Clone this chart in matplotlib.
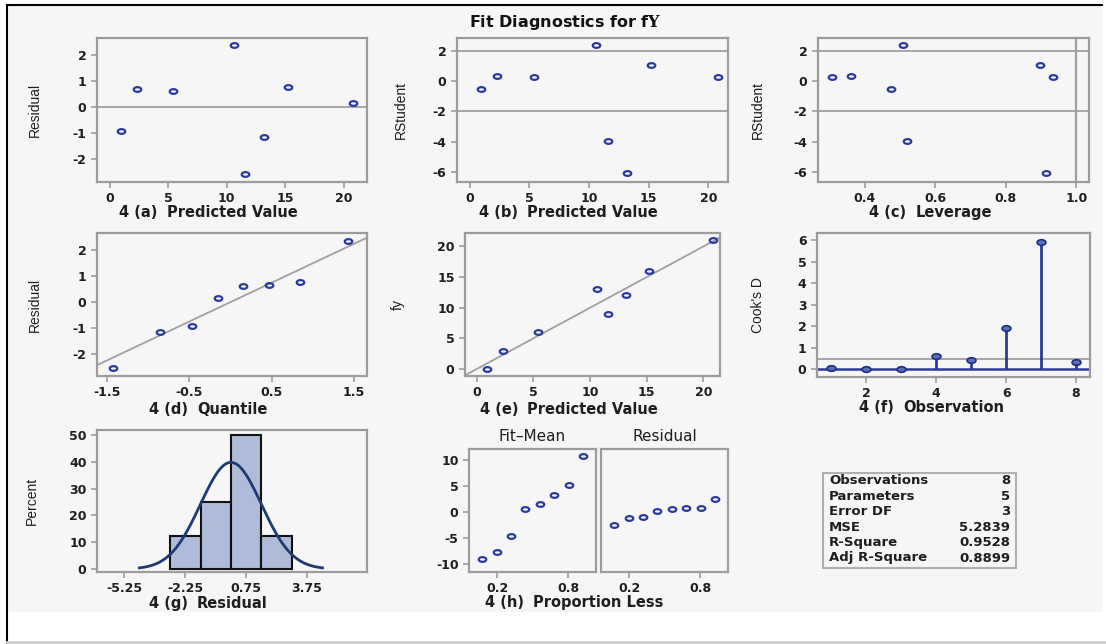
import matplotlib
matplotlib.use("Agg")
import matplotlib.pyplot as plt
import numpy as np
from matplotlib.markers import MarkerStyle
from matplotlib.transforms import Affine2D
from matplotlib.patches import Rectangle
from matplotlib.lines import Line2D

# per-observation values (obs 1..8)
obs = [1, 2, 3, 4, 5, 6, 7, 8]
f_y = [0, 3, 6, 13, 9, 16, 12, 21]
predicted = [0.92, 2.32, 5.38, 10.63, 11.56, 15.23, 13.15, 20.83]
residual = [-0.92, 0.68, 0.62, 2.37, -2.56, 0.77, -1.15, 0.17]
rstudent = [-0.52, 0.34, 0.25, 2.37, -3.94, 1.06, -6.04, 0.25]
leverage = [0.474, 0.362, 0.308, 0.509, 0.521, 0.896, 0.913, 0.934]
cooks_d = [0.08, 0.0, 0.0, 0.60, 0.45, 1.93, 5.90, 0.34]

# Q-Q and residual-fit spread values
normal_quantile = [-1.43, -0.85, -0.47, -0.15, 0.15, 0.47, 0.85, 1.43]
qq_slope, qq_intercept = 1.5, 0.0
proportion_less = [0.076, 0.197, 0.318, 0.439, 0.561, 0.682, 0.803, 0.924]
fit_mean = np.sort(predicted) - np.mean(f_y)
resid_sorted = np.sort(residual)

hist_edges = [-3.0, -1.5, 0.0, 1.5, 3.0]

stat_names = ["Observations", "Parameters", "Error DF", "MSE", "R-Square", "Adj R-Square"]
stat_values = ["8", "5", "3", "5.2839", "0.9528", "0.8899"]

plt.rcParams["font.family"] = ["DejaVu Sans"]
plt.rcParams["font.weight"] = "bold"
plt.rcParams["mathtext.fontset"] = "dejavuserif"
plt.rcParams["axes.unicode_minus"] = False

W, H = 1106, 644
BG = "#f6f6f6"
FRAME = "#9c9c9c"
REF = "#a0a0a0"
BLUE = "#2a3b9b"
NARROW = ["Liberation Sans", "DejaVu Sans"]
INK = "#1e1e1e"

fig = plt.figure(figsize=(W / 100, H / 100), dpi=100)
fig.patch.set_facecolor("white")
renderer = fig.canvas.get_renderer()
fig.patches.append(Rectangle((7 / W, 1 - 612 / H), 1096 / W, 607 / H,
                             transform=fig.transFigure, facecolor=BG,
                             edgecolor="none", zorder=-10))
fig.add_artist(Line2D([7 / W, 1102 / W], [1 - 5 / H, 1 - 5 / H], color="black", lw=1.5))
fig.add_artist(Line2D([7 / W, 7 / W], [1 - 5 / H, 0], color="black", lw=1.5))
fig.add_artist(Line2D([7 / W, 1], [1 - 642 / H, 1 - 642 / H], color="#cfcfcf", lw=2))

ring = MarkerStyle("o", fillstyle="none", transform=Affine2D().scale(1.6, 1.0))
blob = MarkerStyle("o", transform=Affine2D().scale(1.6, 1.0))


def add_ax(box):
    x0, y0, x1, y1 = box
    ax = fig.add_axes([x0 / W, 1 - y1 / H, (x1 - x0) / W, (y1 - y0) / H])
    ax.set_facecolor(BG)
    for s in ax.spines.values():
        s.set_color(FRAME)
        s.set_linewidth(1.6)
    ax.tick_params(direction="out", length=4.5, width=1.2, color=FRAME, pad=3,
                   labelcolor=INK, labelsize=9, top=False, right=False)
    return ax


def x_label(box, text, tag, y):
    x0, _, x1, _ = box
    base = 1 - (y + 4) / H
    t = fig.text((x0 + x1) / 2 / W, base, text, ha="center", va="baseline",
                 fontsize=10.5, fontweight="bold", color=INK)
    left = t.get_window_extent(renderer).x0
    fig.text((left - 9) / W, base, tag, ha="right", va="baseline",
             fontsize=10.5, fontweight="bold", color=INK)


def y_label(box, text, x):
    _, y0, _, y1 = box
    fig.text(x / W, 1 - (y0 + y1) / 2 / H, text, rotation=90, ha="center", va="center",
             fontsize=10, fontweight="normal", family=NARROW, color=INK)


def dots(ax, x, y):
    ax.plot(x, y, linestyle="none", marker=ring, markersize=3.4, mew=1.6,
            mfc="none", mec=BLUE, zorder=3)


fig.text(565 / W, 1 - 22 / H, "Fit Diagnostics for f$\\mathbf{Y}$", ha="center",
         va="center", fontsize=11.5, fontweight="bold", color="#111111")

# (a) residual vs predicted
box = (97, 38, 367, 182)
ax = add_ax(box)
ax.axhline(0, color=REF, lw=1.3)
dots(ax, predicted, residual)
ax.set_xlim(-1.1, 22.0)
ax.set_ylim(-2.88, 2.65)
ax.set_xticks([0, 5, 10, 15, 20])
ax.set_yticks([-2, -1, 0, 1, 2])
x_label(box, "Predicted Value", "4 (a)", 213)
y_label(box, "Residual", 35)

# (b) rstudent vs predicted
box = (457, 38, 728, 182)
ax = add_ax(box)
for v in (2, -2):
    ax.axhline(v, color=REF, lw=1.3)
dots(ax, predicted, rstudent)
ax.set_xlim(-1.05, 21.65)
ax.set_ylim(-6.64, 2.83)
ax.set_xticks([0, 5, 10, 15, 20])
ax.set_yticks([-6, -4, -2, 0, 2])
x_label(box, "Predicted Value", "4 (b)", 213)
y_label(box, "RStudent", 401)

# (c) rstudent vs leverage
box = (818, 38, 1089, 182)
ax = add_ax(box)
for v in (2, -2):
    ax.axhline(v, color=REF, lw=1.3)
ax.axvline(1.0, color=REF, lw=1.6)
dots(ax, leverage, rstudent)
ax.set_xlim(0.268, 1.036)
ax.set_ylim(-6.64, 2.83)
ax.set_xticks([0.4, 0.6, 0.8, 1.0])
ax.set_xticklabels(["0.4", "0.6", "0.8", "1.0"])
ax.set_yticks([-6, -4, -2, 0, 2])
x_label(box, "Leverage", "4 (c)", 213)
y_label(box, "RStudent", 758)

# (d) Q-Q plot of residuals
box = (97, 233, 367, 376)
ax = add_ax(box)
qx = np.array([-2.0, 2.0])
ax.plot(qx, qq_intercept + qq_slope * qx, color=REF, lw=1.3)
dots(ax, normal_quantile, resid_sorted)
ax.set_xlim(-1.62, 1.66)
ax.set_ylim(-2.85, 2.67)
ax.set_xticks([-1.5, -0.5, 0.5, 1.5])
ax.set_yticks([-2, -1, 0, 1, 2])
x_label(box, "Quantile", "4 (d)", 410)
y_label(box, "Residual", 35)

# (e) observed vs predicted
box = (465, 233, 720, 376)
ax = add_ax(box)
ax.plot([-2, 23], [-2, 23], color=REF, lw=1.3)
dots(ax, predicted, f_y)
ax.set_xlim(-1.03, 21.47)
ax.set_ylim(-1.14, 22.2)
ax.set_xticks([0, 5, 10, 15, 20])
ax.set_yticks([0, 5, 10, 15, 20])
x_label(box, "Predicted Value", "4 (e)", 410)
y_label(box, "fy", 398)

# (f) Cook's D
box = (817, 233, 1090, 377)
ax = add_ax(box)
ax.axhline(0.5, color=REF, lw=1.3)
ax.axhline(0, color=BLUE, lw=1.8)
ax.vlines(obs, 0, cooks_d, color=BLUE, lw=2)
ax.plot(obs, cooks_d, linestyle="none", marker=blob, markersize=4.0, mew=1.2,
        mfc="#5a6fc0", mec="#1f2d80", zorder=3)
ax.set_xlim(0.585, 8.4)
ax.set_ylim(-0.36, 6.34)
ax.set_xticks([2, 4, 6, 8])
ax.set_yticks([0, 1, 2, 3, 4, 5, 6])
x_label(box, "Observation", "4 (f)", 408)
y_label(box, "Cook's D", 758)

# (g) histogram of residuals with normal curve
box = (97, 430, 367, 572)
ax = add_ax(box)
ax.hist(residual, bins=hist_edges, weights=np.full(len(residual), 100 / len(residual)),
        facecolor="#afbcd9", edgecolor="#111111", lw=1.5, zorder=2)
mu, sd = np.mean(residual), np.std(residual, ddof=1)
gx = np.linspace(mu - 3 * sd, mu + 3 * sd, 200)
gy = 100 * 1.5 * np.exp(-0.5 * ((gx - mu) / sd) ** 2) / (sd * np.sqrt(2 * np.pi))
ax.plot(gx, gy, color="#1e3a6e", lw=2, zorder=3)
ax.set_xlim(-6.6, 6.7)
ax.set_ylim(-1.1, 51.9)
ax.set_xticks([-5.25, -2.25, 0.75, 3.75])
ax.set_yticks([0, 10, 20, 30, 40, 50])
x_label(box, "Residual", "4 (g)", 604)
y_label(box, "Percent", 32)

# (h) residual-fit spread
box_l = (469, 449, 596, 572)
box_r = (601, 449, 728, 572)
axl = add_ax(box_l)
axr = add_ax(box_r)
dots(axl, proportion_less, fit_mean)
dots(axr, proportion_less, resid_sorted)
for a in (axl, axr):
    a.set_xlim(-0.037, 1.034)
    a.set_ylim(-11.6, 12.1)
    a.set_xticks([0.2, 0.8])
axl.set_yticks([-10, -5, 0, 5, 10])
axr.tick_params(left=False, labelleft=False)
axl.set_title("Fit\u2013Mean", fontsize=11, fontweight="normal", color=INK, pad=6)
axr.set_title("Residual", fontsize=11, fontweight="normal", color=INK, pad=6)
x_label((box_l[0], 0, box_r[2], 0), "Proportion Less", "4 (h)", 603)

# fit statistics box
fig.patches.append(Rectangle((823 / W, 1 - 568 / H), 193 / W, 95 / H,
                             transform=fig.transFigure, facecolor=BG,
                             edgecolor="#b0b0b0", lw=1.5, zorder=1))
for i, (name, val) in enumerate(zip(stat_names, stat_values)):
    yy = 1 - (481 + i * 15.4) / H
    fig.text(829 / W, yy, name, ha="left", va="center", fontsize=9.5,
             fontweight="bold", color=INK)
    fig.text(1010 / W, yy, val, ha="right", va="center", fontsize=9.5,
             fontweight="bold", color=INK)

fig.savefig("out.png", dpi=100)
